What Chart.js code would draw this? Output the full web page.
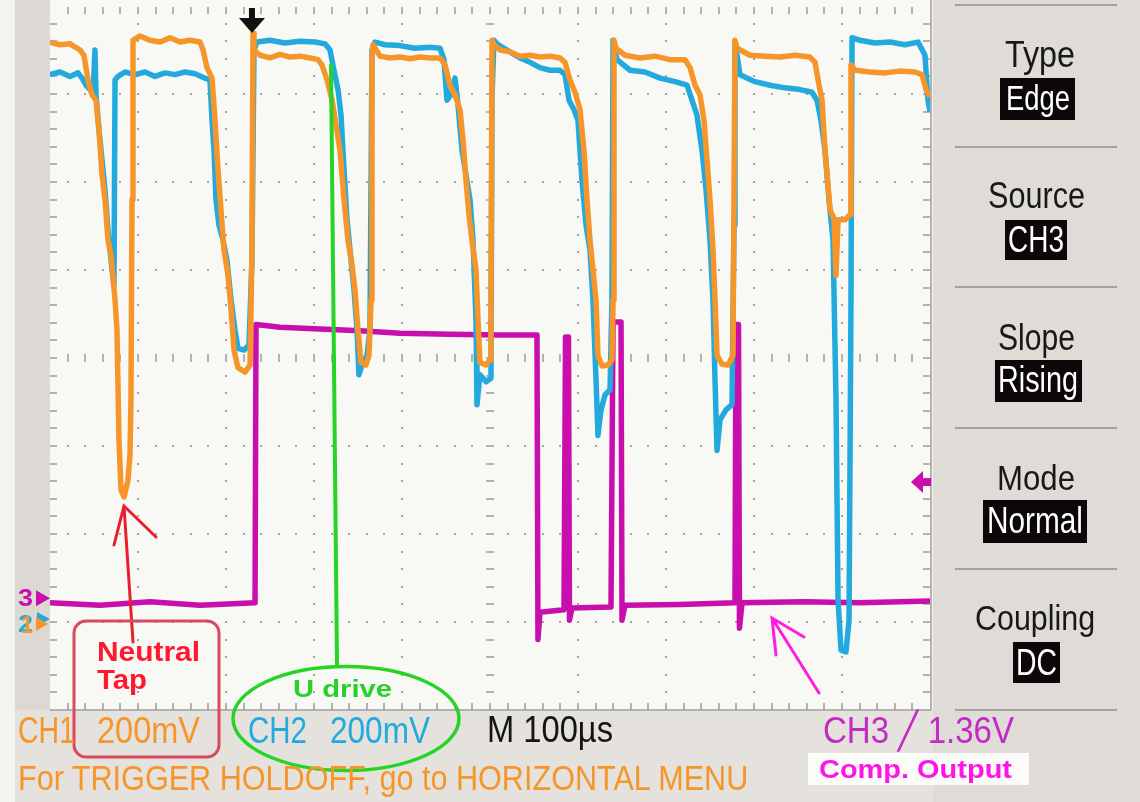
<!DOCTYPE html>
<html>
<head>
<meta charset="utf-8">
<script src="https://cdn.jsdelivr.net/npm/chart.js@4.4.1/dist/chart.umd.min.js"></script>
<style>
  html, body { margin: 0; padding: 0; background: #f4f4ef; }
  #wrap { position: relative; width: 1140px; height: 802px; overflow: hidden; }
  #scope { position: absolute; left: 0; top: 0; }
  .lbl { position: absolute; white-space: pre; line-height: 1; transform-origin: 0 0;
         font-family: "Liberation Sans", Arial, sans-serif; }
</style>
</head>
<body>
<div id="wrap"><canvas id="scope" width="1140" height="802"></canvas></div>
<script>
// horizontal: 100 us/div, 10 div ; vertical: divisions, 8 div
const xMin = 0, xMax = 1000, xDivs = 10;
const yMin = -4, yMax = 4, yDivs = 8;
const minorPerDiv = 5;

const triggerTime = 229.5;   // us, trigger position marker
const triggerLevel = -1.41;  // div, CH3 trigger level marker
const ch3Ground = -2.73;
const ch12Ground = -3.0;

// CH1 (orange) - neutral tap
const ch1Time = [0, 11.4, 22.7, 34.1, 38.6, 43.2, 47.7, 52.3, 55.7, 59.1,
  62.5, 65.9, 69.3, 73.9, 76.1, 78.4, 80.7, 84.1, 88.6, 90.9,
  92.0, 93.2, 94.3, 102.3, 113.6, 125.0, 136.4, 147.7, 159.1, 170.5,
  173.9, 178.4, 184.1, 187.5, 190.9, 194.3, 197.7, 202.3, 205.7, 209.1,
  213.6, 221.6, 227.3, 229.5, 230.7, 231.8, 238.6, 250.0, 261.4, 272.7,
  284.1, 295.5, 304.5, 309.1, 314.8, 320.5, 325.0, 329.5, 334.1, 338.6,
  343.2, 346.6, 350.0, 353.4, 359.1, 362.5, 364.8, 365.9, 367.0, 375.0,
  386.4, 397.7, 409.1, 420.5, 431.8, 443.2, 448.9, 454.5, 460.2, 465.9,
  469.3, 472.7, 476.1, 479.5, 484.1, 486.4, 488.6, 495.5, 500.0, 501.1,
  502.3, 504.5, 511.4, 522.7, 534.1, 545.5, 556.8, 568.2, 579.5, 585.2,
  590.9, 596.6, 602.3, 606.8, 610.2, 613.6, 617.0, 620.5, 622.7, 627.3,
  634.1, 638.6, 639.8, 640.9, 643.2, 653.4, 670.5, 687.5, 704.5, 721.6,
  727.3, 733.0, 738.6, 743.2, 746.6, 750.0, 753.4, 755.7, 758.0, 763.6,
  770.5, 776.1, 778.4, 780.7, 795.5, 812.5, 829.5, 846.6, 863.6, 869.3,
  873.9, 877.3, 880.7, 884.1, 886.4, 890.9, 893.2, 895.5, 903.4, 909.1,
  910.2, 914.8, 931.8, 948.9, 965.9, 983.0, 990.9, 995.5, 1000];
const ch1Level = [3.59, 3.56, 3.57, 3.50, 3.44, 3.16, 2.99, 2.93, 2.59, 2.08,
  1.80, 1.34, 1.17, 0.66, 0.32, -0.93, -1.50, -1.58, -1.39, -1.10,
  -0.48, 1.80, 3.61, 3.66, 3.61, 3.59, 3.64, 3.59, 3.61, 3.59,
  3.50, 3.30, 3.18, 2.70, 2.14, 1.68, 1.23, 0.94, 0.55, 0.09,
  -0.11, -0.16, -0.08, 1.23, 3.69, 3.50, 3.44, 3.41, 3.45, 3.42,
  3.43, 3.41, 3.39, 3.33, 3.16, 2.93, 2.65, 2.36, 1.80, 1.34,
  1.06, 0.77, 0.32, -0.05, -0.08, 0.03, 0.66, 3.39, 3.56, 3.43,
  3.41, 3.42, 3.40, 3.42, 3.41, 3.41, 3.33, 3.10, 2.99, 2.82,
  2.48, 2.02, 1.63, 1.34, 1.00, 0.43, -0.05, -0.08, -0.02, 0.66,
  3.61, 3.56, 3.50, 3.48, 3.43, 3.44, 3.42, 3.43, 3.41, 3.36,
  3.16, 3.02, 2.82, 2.36, 1.80, 1.34, 1.00, 0.66, 0.03, -0.09,
  -0.08, -0.02, 0.66, 3.61, 3.52, 3.44, 3.41, 3.43, 3.39, 3.39,
  3.30, 3.10, 2.99, 2.70, 2.25, 1.80, 1.23, 0.66, 0.03, -0.07,
  -0.08, 0.03, 3.61, 3.52, 3.44, 3.43, 3.42, 3.44, 3.42, 3.36,
  3.10, 2.93, 2.36, 1.97, 1.68, 1.59, 0.94, 1.57, 1.57, 1.63,
  3.33, 3.27, 3.25, 3.24, 3.26, 3.25, 3.22, 3.05, 2.97];

// CH2 (blue) - U drive
const ch2Time = [0, 11.4, 22.7, 31.8, 36.4, 40.9, 45.5, 48.9, 51.1, 52.3,
  55.7, 59.1, 62.5, 65.9, 68.2, 70.5, 72.7, 73.9, 77.3, 85.2,
  96.6, 108.0, 119.3, 130.7, 142.0, 153.4, 164.8, 176.1, 181.8, 184.1,
  186.4, 188.6, 192.0, 196.6, 201.1, 205.7, 210.2, 213.6, 220.5, 226.1,
  229.5, 231.8, 235.2, 250.0, 267.0, 284.1, 301.1, 312.5, 318.2, 322.7,
  327.3, 330.7, 334.1, 337.5, 340.9, 345.5, 348.9, 351.1, 354.5, 360.2,
  363.6, 365.9, 369.3, 380.7, 397.7, 414.8, 431.8, 443.2, 447.7, 451.1,
  455.7, 460.2, 463.6, 468.2, 472.7, 477.3, 480.7, 484.1, 485.2, 488.6,
  495.5, 501.1, 502.3, 504.5, 509.1, 522.7, 534.1, 545.5, 556.8, 568.2,
  579.5, 585.2, 589.8, 595.5, 600.0, 604.5, 609.1, 613.6, 617.0, 620.5,
  622.7, 626.1, 630.7, 636.4, 638.6, 639.8, 644.3, 659.1, 676.1, 693.2,
  710.2, 723.9, 729.5, 735.2, 740.9, 745.5, 750.0, 753.4, 755.7, 758.0,
  761.4, 768.2, 775.0, 777.3, 778.4, 784.1, 801.1, 818.2, 835.2, 852.3,
  865.9, 871.6, 876.1, 880.7, 885.2, 889.8, 893.2, 895.5, 898.9, 904.5,
  908.0, 910.2, 911.4, 920.5, 937.5, 954.5, 971.6, 986.4, 994.3, 997.7,
  1000];
const ch2Level = [3.22, 3.25, 3.20, 3.24, 3.18, 3.10, 3.05, 2.99, 3.50, 2.99,
  2.59, 2.25, 1.91, 1.45, 1.23, 1.00, 0.83, 3.16, 3.20, 3.25,
  3.22, 3.25, 3.20, 3.24, 3.22, 3.25, 3.23, 3.18, 3.16, 2.70,
  2.36, 1.80, 1.51, 1.34, 1.11, 0.66, 0.32, 0.11, 0.09, 0.15,
  1.11, 3.50, 3.59, 3.61, 3.58, 3.60, 3.59, 3.57, 3.50, 3.27,
  3.05, 2.76, 2.14, 1.57, 1.23, 0.77, 0.32, -0.19, -0.08, 0.03,
  0.32, 3.50, 3.59, 3.56, 3.55, 3.52, 3.53, 3.52, 3.39, 2.93,
  2.99, 3.18, 2.88, 2.36, 2.08, 1.80, 1.34, 0.43, -0.53, -0.19,
  -0.27, -0.23, 2.98, 3.61, 3.56, 3.48, 3.41, 3.36, 3.30, 3.27,
  3.27, 3.22, 2.93, 2.82, 2.70, 2.02, 1.51, 1.23, 0.66, -0.25,
  -0.88, -0.59, -0.42, -0.36, 0.66, 3.61, 3.39, 3.27, 3.25, 3.18,
  3.14, 3.10, 2.93, 2.76, 2.36, 1.91, 1.34, 0.66, -0.25, -1.05,
  -0.70, -0.59, -0.53, 1.51, 3.59, 3.22, 3.14, 3.10, 3.07, 3.05,
  3.02, 2.93, 2.70, 2.36, 1.80, 1.34, -0.48, -2.75, -3.32, -3.34,
  -2.98, 0.66, 3.64, 3.61, 3.58, 3.59, 3.56, 3.59, 3.44, 2.93,
  2.80];

// CH3 (magenta) - comparator output
const ch3Time = [0, 56.8, 113.6, 170.5, 233.0, 234.1, 261.4, 306.8, 352.3, 397.7,
  454.5, 511.4, 553.4, 554.5, 556.8, 584.1, 585.8, 589.2, 590.3, 593.2,
  637.5, 639.8, 648.9, 650.0, 653.4, 715.9, 778.4, 779.5, 782.4, 783.5,
  786.4, 856.8, 920.5, 1000];
const ch3Level = [-2.78, -2.81, -2.77, -2.81, -2.78, 0.38, 0.35, 0.33, 0.31, 0.28,
  0.27, 0.26, 0.26, -3.20, -2.89, -2.86, 0.24, 0.24, -2.98, -2.84,
  -2.83, 0.41, 0.41, -2.98, -2.81, -2.80, -2.78, 0.38, 0.38, -3.07,
  -2.78, -2.77, -2.78, -2.76];

const ORANGE = '#f6962a', BLUE = '#22aade', MAGENTA = '#c80fae';

function toPoints(ts, vs) {
  return ts.map((t, i) => ({ x: t, y: vs[i] }));
}

function trace(label, ts, vs, color, width) {
  return {
    label: label,
    data: toPoints(ts, vs),
    showLine: true,
    borderColor: color,
    backgroundColor: color,
    borderWidth: width,
    borderJoinStyle: 'round',
    pointRadius: 0,
    tension: 0
  };
}

// background panels
const scopeFrame = {
  id: 'scopeFrame',
  beforeDraw(chart) {
    const { ctx, chartArea: a, width, height } = chart;
    ctx.save();
    ctx.fillStyle = '#f4f4ef';
    ctx.fillRect(0, 0, width, height);
    ctx.fillStyle = '#f8f8f4';
    ctx.fillRect(a.left, 0, a.right - a.left, a.bottom);
    ctx.fillStyle = '#dcd9d4';
    ctx.fillRect(15, 0, a.left - 15, a.bottom);
    ctx.fillStyle = '#e5e2dd';
    ctx.fillRect(15, a.bottom, a.right - 15 + 3, height - a.bottom);
    ctx.fillStyle = '#dfdcd7';
    ctx.fillRect(a.right + 3, 0, width - a.right - 3, height);

    // menu separators
    ctx.strokeStyle = '#8f8f8c';
    ctx.lineWidth = 1.5;
    [5, 147, 287, 428, 569, 710].forEach(yy => {
      ctx.beginPath(); ctx.moveTo(955, yy); ctx.lineTo(1117, yy); ctx.stroke();
    });
    // menu value boxes
    ctx.fillStyle = '#0c0809';
    [[1000, 78, 75, 42], [1005, 220, 62, 40], [995, 360, 87, 42],
     [983, 500, 104, 43], [1013, 642, 47, 41]].forEach(b => ctx.fillRect(b[0], b[1], b[2], b[3]));
    ctx.restore();
  }
};

// graticule drawn from the scales
const graticule = {
  id: 'graticule',
  beforeDatasetsDraw(chart) {
    const { ctx, chartArea: a } = chart;
    const sx = chart.scales.x, sy = chart.scales.y;
    const xs = (xMax - xMin) / xDivs / minorPerDiv;
    const ys = (yMax - yMin) / yDivs / minorPerDiv;
    const nx = xDivs * minorPerDiv, ny = yDivs * minorPerDiv;
    ctx.save();
    // dotted major lines
    ctx.fillStyle = '#a5a5a1';
    for (let i = 1; i < xDivs; i++) {
      const px = Math.round(sx.getPixelForValue(xMin + i * xs * minorPerDiv));
      for (let k = 1; k < ny; k++) {
        const py = Math.round(sy.getPixelForValue(yMin + k * ys));
        ctx.fillRect(px - 1, py - 1, 2, 2);
      }
    }
    for (let j = 1; j < yDivs; j++) {
      const py = Math.round(sy.getPixelForValue(yMin + j * ys * minorPerDiv));
      for (let k = 1; k < nx; k++) {
        const px = Math.round(sx.getPixelForValue(xMin + k * xs));
        ctx.fillRect(px - 1, py - 1, 2, 2);
      }
    }
    // centre cross ticks
    ctx.fillStyle = '#b2b2ae';
    const cx = Math.round(sx.getPixelForValue((xMin + xMax) / 2));
    const cy = Math.round(sy.getPixelForValue((yMin + yMax) / 2));
    for (let k = 1; k < nx; k++) {
      const px = Math.round(sx.getPixelForValue(xMin + k * xs));
      ctx.fillRect(px - 1, cy - 4, 2, 8);
      ctx.fillRect(px - 1, a.bottom - 7, 2, 7);
      ctx.fillRect(px - 1, a.top + 1, 2, 7);
    }
    for (let k = 1; k < ny; k++) {
      const py = Math.round(sy.getPixelForValue(yMin + k * ys));
      ctx.fillRect(cx - 4, py - 1, 8, 2);
      ctx.fillRect(a.left, py - 1, 7, 2);
      ctx.fillRect(a.right - 7, py - 1, 7, 2);
    }
    // frame
    ctx.strokeStyle = '#9d9d99';
    ctx.lineWidth = 1.5;
    ctx.beginPath();
    ctx.moveTo(a.right + 1, 0); ctx.lineTo(a.right + 1, a.bottom);
    ctx.moveTo(a.left, a.bottom); ctx.lineTo(a.right + 1, a.bottom);
    ctx.stroke();
    ctx.restore();
  }
};

// markers and hand drawn notes
const notes = {
  id: 'notes',
  afterDatasetsDraw(chart) {
    const { ctx, chartArea: a } = chart;
    const sx = chart.scales.x, sy = chart.scales.y;
    ctx.save();

    // trigger position (top)
    const tx = sx.getPixelForValue(triggerTime);
    ctx.fillStyle = '#111';
    ctx.fillRect(tx - 3, a.top + 2, 6, 12);
    ctx.beginPath();
    ctx.moveTo(tx - 13, a.top + 12); ctx.lineTo(tx + 13, a.top + 12); ctx.lineTo(tx, a.top + 27);
    ctx.closePath(); ctx.fill();

    // trigger level (right)
    const ty = sy.getPixelForValue(triggerLevel);
    ctx.fillStyle = MAGENTA;
    ctx.beginPath();
    ctx.moveTo(a.right - 19, ty); ctx.lineTo(a.right - 7, ty - 11); ctx.lineTo(a.right - 7, ty + 11);
    ctx.closePath(); ctx.fill();
    ctx.fillRect(a.right - 9, ty - 4, 10, 8);

    // channel ground markers (left)
    const g3 = sy.getPixelForValue(ch3Ground);
    ctx.fillStyle = MAGENTA;
    ctx.beginPath();
    ctx.moveTo(a.left, g3); ctx.lineTo(a.left - 14, g3 - 8); ctx.lineTo(a.left - 14, g3 + 8);
    ctx.closePath(); ctx.fill();
    const g12 = sy.getPixelForValue(ch12Ground);
    ctx.fillStyle = BLUE;
    ctx.beginPath();
    ctx.moveTo(a.left, g12 - 3); ctx.lineTo(a.left - 13, g12 - 10); ctx.lineTo(a.left - 13, g12 + 4);
    ctx.closePath(); ctx.fill();
    ctx.fillStyle = ORANGE;
    ctx.beginPath();
    ctx.moveTo(a.left - 2, g12 + 2); ctx.lineTo(a.left - 14, g12 - 5); ctx.lineTo(a.left - 14, g12 + 9);
    ctx.closePath(); ctx.fill();

    ctx.lineCap = 'round';
    // green pointer to U drive
    ctx.strokeStyle = '#25d425';
    ctx.lineWidth = 4;
    ctx.beginPath(); ctx.moveTo(331, 65); ctx.lineTo(337, 665); ctx.stroke();
    ctx.lineWidth = 3.5;
    ctx.beginPath(); ctx.ellipse(346, 718.5, 113, 52, 0, 0, Math.PI * 2); ctx.stroke();

    // red pointer to neutral tap
    ctx.strokeStyle = '#e8202e';
    ctx.lineWidth = 3;
    ctx.beginPath();
    ctx.moveTo(133, 642); ctx.lineTo(124, 506);
    ctx.moveTo(114, 545); ctx.lineTo(124, 506); ctx.lineTo(156, 537);
    ctx.stroke();
    ctx.strokeStyle = '#d84a60';
    ctx.lineWidth = 3;
    ctx.beginPath(); ctx.roundRect(74, 621, 145, 136, 12); ctx.stroke();

    // magenta pointer to comparator output
    ctx.strokeStyle = '#ff1ee0';
    ctx.lineWidth = 3;
    ctx.beginPath();
    ctx.moveTo(819, 693); ctx.lineTo(772, 618);
    ctx.moveTo(776, 655); ctx.lineTo(772, 618); ctx.lineTo(804, 637);
    ctx.stroke();
    ctx.fillStyle = '#fbfbfa';
    ctx.fillRect(808, 753, 221, 32);
    ctx.restore();
  }
};

new Chart(document.getElementById('scope'), {
  type: 'scatter',
  data: {
    datasets: [
      trace('CH1', ch1Time, ch1Level, ORANGE, 5.5),
      trace('CH2', ch2Time, ch2Level, BLUE, 5.5),
      trace('CH3', ch3Time, ch3Level, MAGENTA, 5.5)
    ]
  },
  options: {
    responsive: false,
    animation: false,
    events: [],
    layout: { padding: { left: 50, right: 210, top: 6, bottom: 92 } },
    scales: {
      x: { type: 'linear', min: xMin, max: xMax, display: false },
      y: { type: 'linear', min: yMin, max: yMax, display: false }
    },
    plugins: { legend: { display: false }, tooltip: { enabled: false } }
  },
  plugins: [scopeFrame, graticule, notes]
});

// text, fitted to the width it takes on the scope screen
const texts = [
  { t: 'CH1', x: 18, b: 743, s: 36, w: 57, c: ORANGE },
  { t: '200mV', x: 97, b: 743, s: 36, w: 103, c: ORANGE },
  { t: 'CH2', x: 248, b: 743, s: 36, w: 59, c: BLUE },
  { t: '200mV', x: 330, b: 743, s: 36, w: 100, c: BLUE },
  { t: 'M 100\u00b5s', x: 487, b: 742, s: 36, w: 126, c: '#141414' },
  { t: 'CH3 \u2571 1.36V', x: 823, b: 743, s: 36, w: 191, c: '#c42ac4' },
  { t: 'For TRIGGER HOLDOFF, go to HORIZONTAL MENU', x: 18, b: 790, s: 35, w: 730, c: ORANGE },
  { t: 'Type', x: 1005, b: 67, s: 37, w: 70, c: '#181818' },
  { t: 'Edge', x: 1006, b: 110, s: 35, w: 64, c: '#ffffff' },
  { t: 'Source', x: 988, b: 208, s: 36, w: 97, c: '#181818' },
  { t: 'CH3', x: 1008, b: 252, s: 36, w: 56, c: '#ffffff' },
  { t: 'Slope', x: 998, b: 350, s: 36, w: 77, c: '#181818' },
  { t: 'Rising', x: 998, b: 392, s: 36, w: 80, c: '#ffffff' },
  { t: 'Mode', x: 997, b: 490, s: 35, w: 78, c: '#181818' },
  { t: 'Normal', x: 987, b: 533, s: 36, w: 96, c: '#ffffff' },
  { t: 'Coupling', x: 975, b: 630, s: 35, w: 120, c: '#181818' },
  { t: 'DC', x: 1016, b: 675, s: 36, w: 41, c: '#ffffff' },
  { t: 'Neutral', x: 97, b: 662, s: 28, w: 103, c: '#ff1830', bold: true },
  { t: 'Tap', x: 97, b: 690, s: 28, w: 50, c: '#ff1830', bold: true },
  { t: 'U drive', x: 293, b: 697, s: 24, w: 99, c: '#2ad02a', bold: true },
  { t: 'Comp. Output', x: 819, b: 778, s: 25, w: 193, c: '#ff14e6', bold: true },
  { t: '3', x: 18, b: 606, s: 24, w: 15, c: MAGENTA, bold: true },
  { t: '2', x: 18, b: 632, s: 24, w: 15, c: BLUE, bold: true },
  { t: '1', x: 21, b: 633, s: 24, w: 12, c: ORANGE, bold: true }
];

const wrap = document.getElementById('wrap');
texts.forEach(o => {
  const el = document.createElement('div');
  el.className = 'lbl';
  el.textContent = o.t;
  el.style.fontSize = o.s + 'px';
  el.style.fontWeight = o.bold ? 'bold' : 'normal';
  el.style.color = o.c;
  el.style.left = o.x + 'px';
  el.style.top = (o.b - 0.8465 * o.s) + 'px';
  wrap.appendChild(el);
  const w = el.getBoundingClientRect().width;
  el.style.transform = 'scaleX(' + (o.w / w).toFixed(3) + ')';
});
</script>
</body>
</html>
